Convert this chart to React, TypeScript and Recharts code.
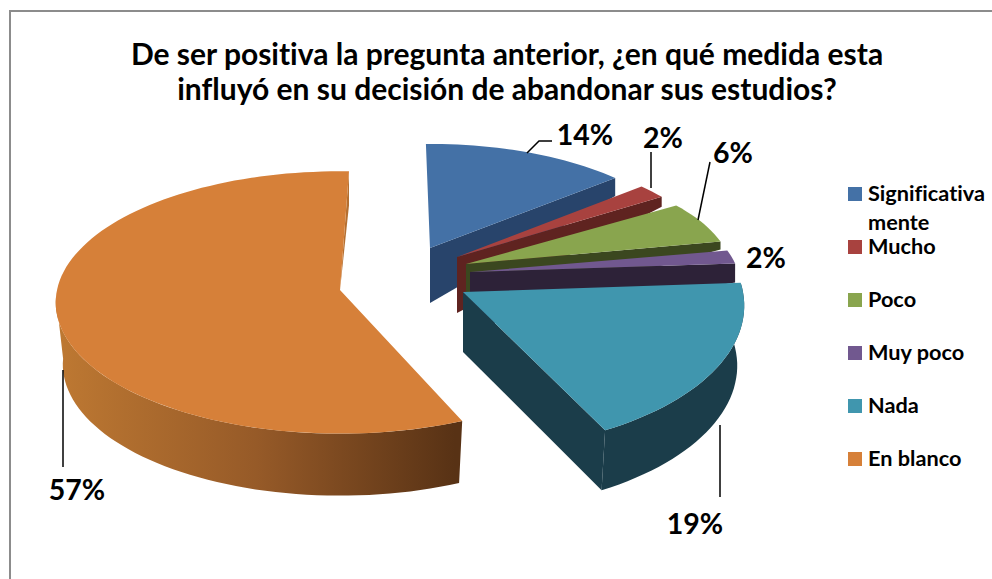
import React from "react";
import { PieChart, Pie, Legend } from "recharts";

const TITLE_LINES = [
  "De ser positiva la pregunta anterior, ¿en qué medida esta",
  "influyó en su decisión de abandonar sus estudios?",
];
const CATEGORIES = ["Significativamente", "Mucho", "Poco", "Muy poco", "Nada", "En blanco"];
const VALUES = [14, 2, 6, 2, 19, 57];
const COLORS = ["#4471a6", "#a8423f", "#89a54e", "#71588f", "#4096ae", "#d68039"];
const WALL_COLORS = ["#28446b", "#5f2320", "#3b471f", "#2d2238", "#1b3d4a", "url(#orangeWall)"];

// how each slice sits in the fake 3D view: explosion offset from the pie centre,
// ellipse radii, wall depth, depth at the far end of the cut face, small angle fixes
const SLICE_VIEW = [
  { dx: 90, dy: -42, rx: 259, ry: 114, depth: 55, tipDepth: 18, turn: 0, trim: 0 },
  { dx: 117, dy: -33, rx: 258, ry: 115, depth: 56, tipDepth: 10, turn: 0, trim: 0 },
  { dx: 126, dy: -26, rx: 265, ry: 112, depth: 55, tipDepth: 8, turn: 0, trim: 0 },
  { dx: 130, dy: -18, rx: 268, ry: 107, depth: 55, tipDepth: 19, turn: 0, trim: 0 },
  { dx: 123, dy: 2, rx: 280, ry: 143, depth: 60, tipDepth: 60, turn: -1.5, trim: 2.4 },
  { dx: 0, dy: 0, rx: 283, ry: 130, depth: 62, tipDepth: 34, turn: 3, trim: 0 },
];

// leader line points and text anchor for each data label
const LABEL_SPOTS = [
  { x: 585, y: 134, line: "527,153 539,141 552,141" },
  { x: 663, y: 137, line: "651,152 651,188" },
  { x: 733, y: 152, line: "710,162 698,220" },
  { x: 766, y: 257, line: "" },
  { x: 695, y: 523, line: "720,425 720,497" },
  { x: 77, y: 489, line: "63,370 63,467" },
];

const PERSPECTIVE = 0.095;
const WALL_SHRINK = 0.975;
const FONT = "Lato, Carlito, Calibri, sans-serif";
const WIDTH = 992;
const HEIGHT = 579;

const pieData = CATEGORIES.map((name, i) => ({ name, value: VALUES[i], fill: COLORS[i] }));

function rimPoints(
  from: number,
  to: number,
  ax: number,
  ay: number,
  view: (typeof SLICE_VIEW)[number],
  drop = 0,
  shrink = 1
) {
  const pts: [number, number][] = [];
  const steps = Math.max(4, Math.ceil(Math.abs(to - from) / 2));
  for (let i = 0; i <= steps; i++) {
    const a = ((from + ((to - from) * i) / steps) * Math.PI) / 180;
    const u = Math.sin(a);
    const v = -Math.cos(a);
    const s = 1 / (1 - PERSPECTIVE * v);
    pts.push([ax + view.rx * shrink * u * s, ay + view.ry * v * s + drop]);
  }
  return pts;
}

const toPath = (pts: [number, number][]) =>
  "M" + pts.map((p) => `${p[0].toFixed(1)},${p[1].toFixed(1)}`).join("L") + "Z";

const renderSlice = (props: any) => {
  const { cx, cy, startAngle, endAngle, name, payload } = props;
  const index = CATEGORIES.indexOf(name ?? payload?.name);
  const view = SLICE_VIEW[index];
  const ax = cx + view.dx;
  const ay = cy + view.dy;
  // recharts angles are counter-clockwise from 3 o'clock
  const from = 90 - startAngle + view.turn + view.trim;
  const to = 90 - endAngle + view.turn;

  const arc = rimPoints(from, to, ax, ay, view);
  const top: [number, number][] = [[ax, ay], ...arc];
  const tip = arc[arc.length - 1];
  const isBlanco = index === 5;
  const face: [number, number][] = isBlanco
    ? [tip, [tip[0], tip[1] + view.tipDepth], [ax, ay]]
    : index === 4
      ? [[ax, ay], [ax, ay + view.depth], rimPoints(to, to, ax, ay, view, view.depth, WALL_SHRINK)[0], tip]
      : [[ax, ay], [ax, ay + view.depth], [tip[0], tip[1] + view.tipDepth], tip];

  let rim: [number, number][] | null = null;
  if (index >= 4) {
    // only the front part of the rim shows a wall
    const wallTo = isBlanco ? 267 : to;
    rim = [
      ...rimPoints(from, wallTo, ax, ay, view),
      ...rimPoints(wallTo, from, ax, ay, view, view.depth, WALL_SHRINK),
    ];
  }

  return (
    <g>
      {isBlanco && (
        <defs>
          <linearGradient id="orangeWall" gradientUnits="userSpaceOnUse" x1={60} y1={0} x2={455} y2={0}>
            <stop offset="0%" stopColor="#bd7832" />
            <stop offset="50%" stopColor="#965a28" />
            <stop offset="100%" stopColor="#583215" />
          </linearGradient>
        </defs>
      )}
      <path d={toPath(face)} fill={isBlanco ? "#b56f30" : WALL_COLORS[index]} />
      {rim && <path d={toPath(rim)} fill={WALL_COLORS[index]} />}
      <path d={toPath(top)} fill={COLORS[index]} />
    </g>
  );
};

const renderLabel = (props: any) => {
  const spot = LABEL_SPOTS[props.index];
  return (
    <g key={`label-${props.index}`}>
      {spot.line && <polyline points={spot.line} fill="none" stroke="#000" strokeWidth={1.5} />}
      <text
        x={spot.x}
        y={spot.y}
        textAnchor="middle"
        dominantBaseline="central"
        fontFamily={FONT}
        fontWeight={700}
        fontSize={28.5}
        fill="#000"
      >
        {`${VALUES[props.index]}%`}
      </text>
    </g>
  );
};

const renderLegend = (props: any) => (
  <div style={{ fontFamily: FONT, fontWeight: 700, fontSize: 21.7, color: "#000", fontVariantLigatures: "none" }}>
    {(props.payload ?? []).map((entry: any) => (
      <div key={entry.value} style={{ height: 53, display: "flex", alignItems: "flex-start" }}>
        <span style={{ width: 14, height: 14, marginTop: 7, marginRight: 6, flex: "none", background: entry.color }} />
        <span style={{ width: 122, lineHeight: "29px", overflowWrap: "anywhere", marginTop: -1 }}>{entry.value}</span>
      </div>
    ))}
  </div>
);

export default function App() {
  return (
    <div style={{ position: "absolute", left: 0, top: 0, width: WIDTH, height: HEIGHT, overflow: "hidden", background: "#fff" }}>
      <div
        style={{
          position: "absolute",
          left: 9,
          top: 10,
          right: -5,
          bottom: -5,
          borderLeft: "2px solid #8c8c8c",
          borderTop: "2px solid #8c8c8c",
        }}
      />
      <div
        style={{
          position: "absolute",
          left: 7,
          width: 1000,
          top: 36,
          textAlign: "center",
          fontFamily: FONT,
          fontWeight: 700,
          fontSize: 30,
          lineHeight: "35px",
          color: "#000",
          fontVariantLigatures: "none",
        }}
      >
        {TITLE_LINES.map((line) => (
          <div key={line}>{line}</div>
        ))}
      </div>
      <div style={{ position: "absolute", left: 0, top: 0 }}>
        <PieChart width={WIDTH} height={HEIGHT} margin={{ top: 0, right: 0, bottom: 0, left: 0 }}>
          <Pie
            data={pieData}
            dataKey="value"
            nameKey="name"
            cx={340}
            cy={290}
            outerRadius={280}
            startAngle={91}
            endAngle={-269}
            stroke="none"
            isAnimationActive={false}
            shape={renderSlice}
            label={renderLabel}
            labelLine={false}
          />
          <Legend
            layout="vertical"
            align="right"
            verticalAlign="middle"
            content={renderLegend}
            itemSorter={null}
            wrapperStyle={{ left: 848, top: 180, right: "auto", width: 144 }}
          />
        </PieChart>
      </div>
    </div>
  );
}
